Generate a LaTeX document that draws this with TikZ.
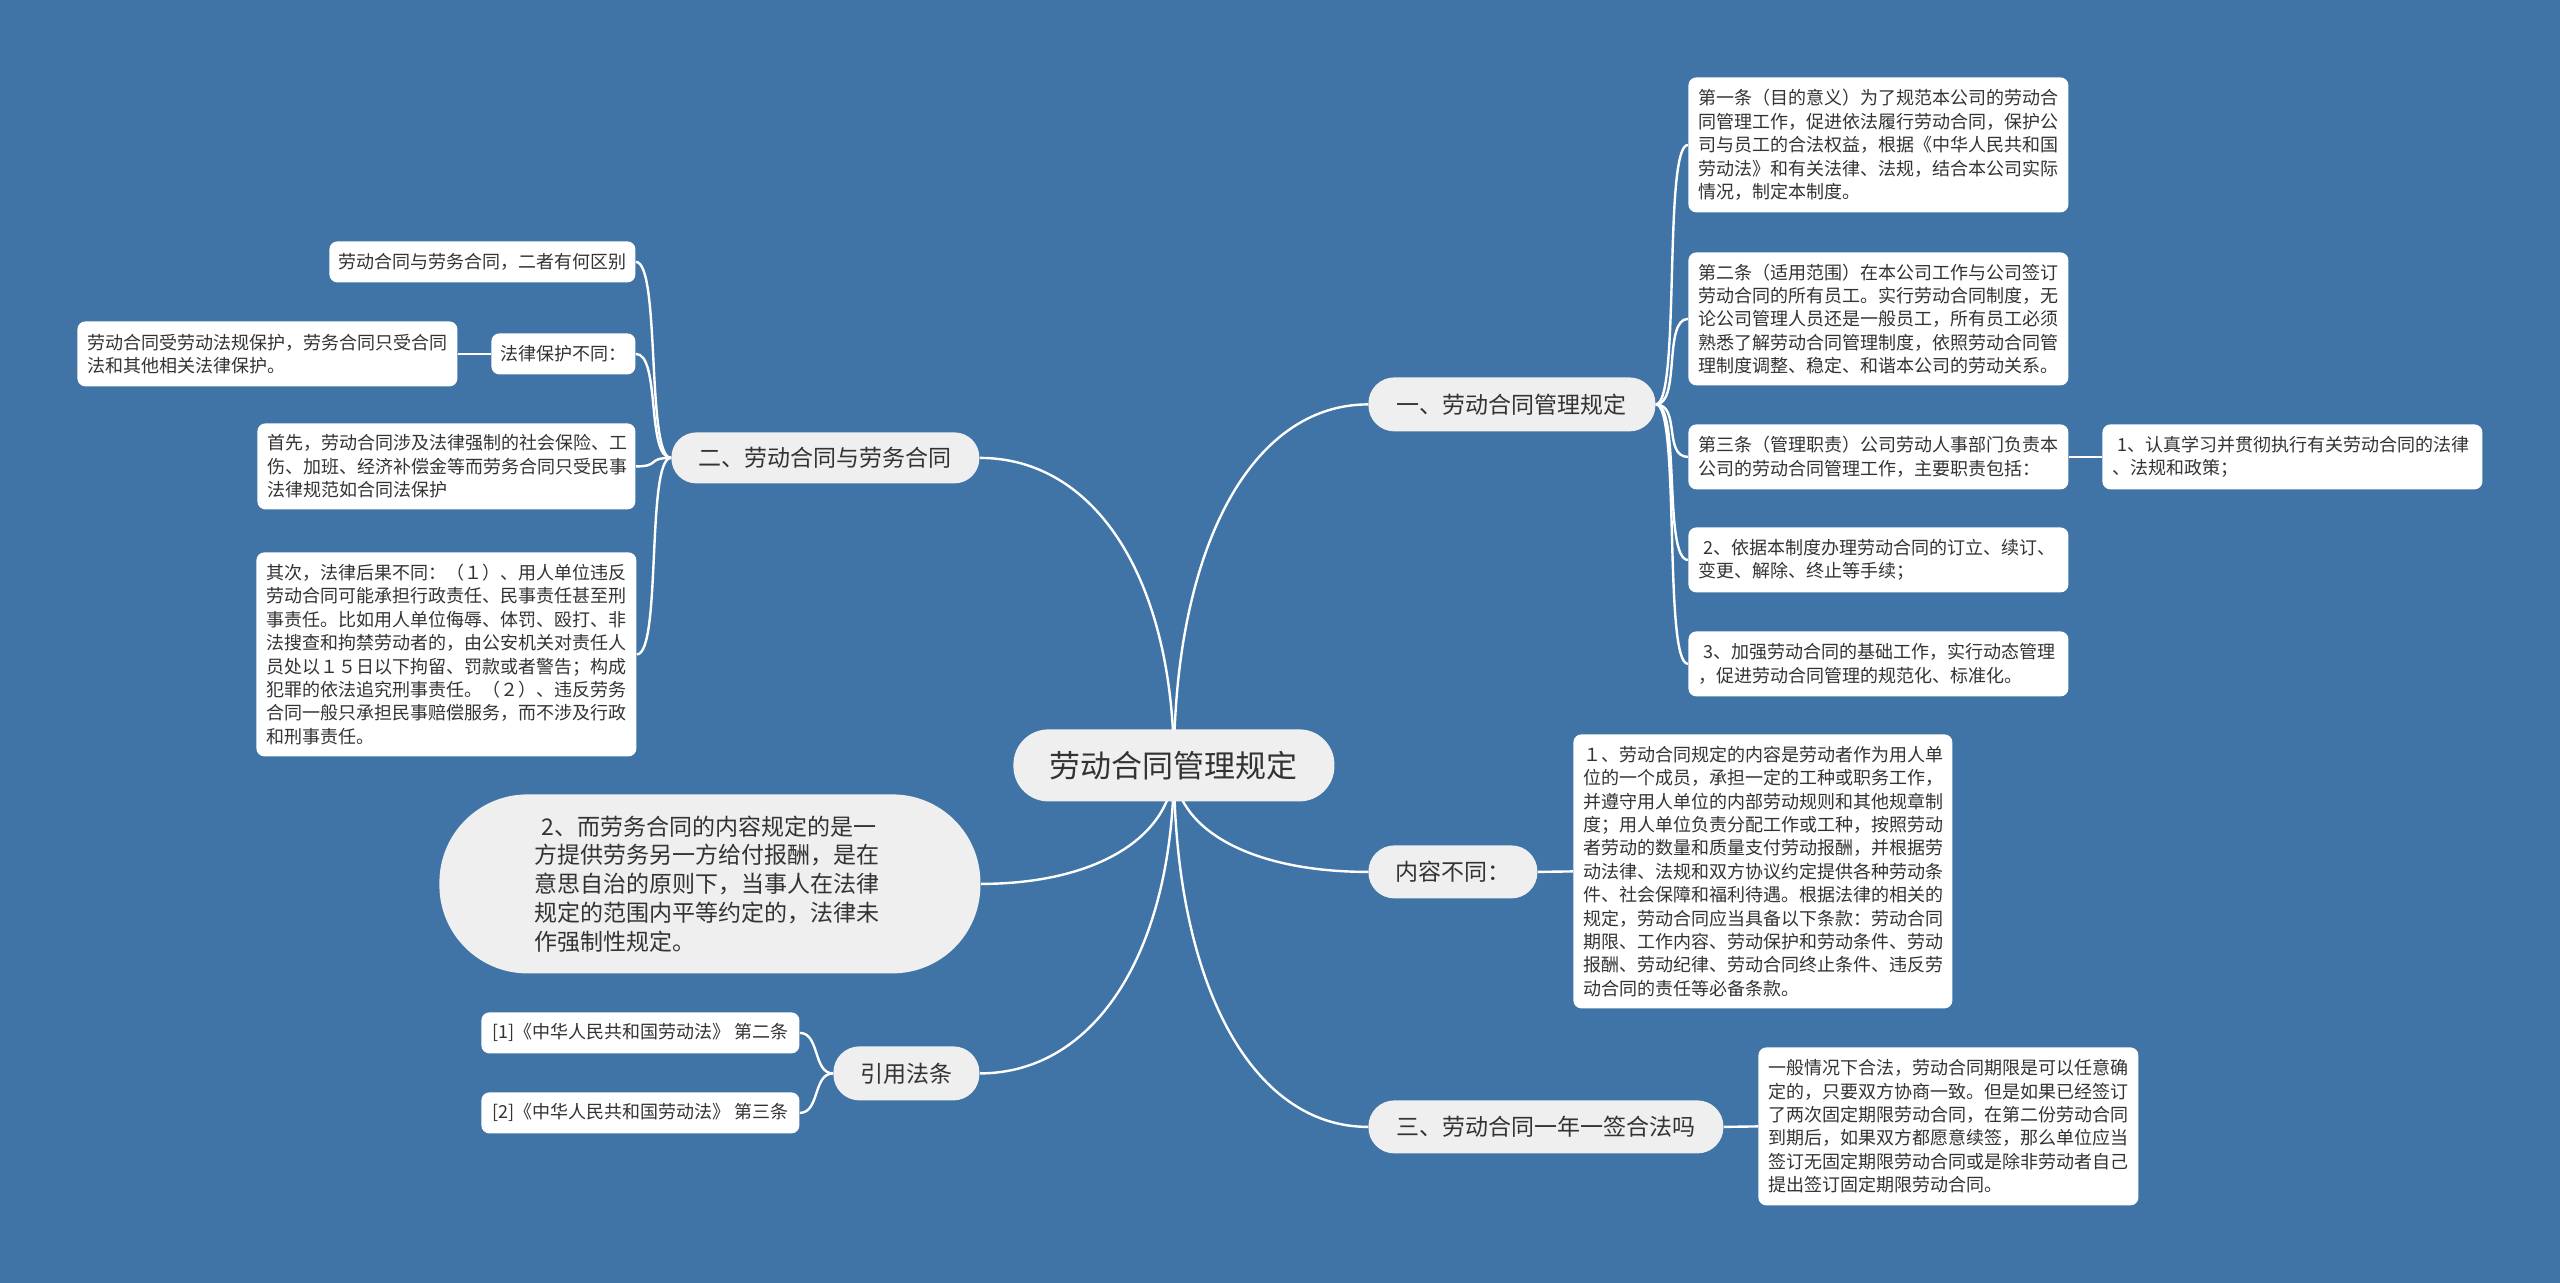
\documentclass[tikz,border=0pt]{standalone}
\usepackage{fontspec}
\newfontfamily\cjk{Noto Sans CJK SC}
\definecolor{bgblue}{HTML}{4074A6}
\definecolor{pillc}{HTML}{EFEFEF}
\definecolor{txt}{HTML}{333333}
\pgfdeclarelayer{bg}
\pgfdeclarelayer{edges}
\pgfsetlayers{bg,edges,main}
\begin{document}
\begin{tikzpicture}[x=0.5pt,y=-0.5pt,
  leaf/.style={fill=white, rounded corners=4pt, align=left, anchor=north west,
    inner xsep=5pt, inner ysep=0pt, text=txt, font=\cjk\fontsize{9}{11.7}\selectfont},
  leafone/.style={fill=white, rounded corners=4pt, align=center, anchor=north west,
    inner sep=0pt, text=txt, font=\cjk\fontsize{9}{11.7}\selectfont},
  pillnode/.style={fill=pillc, anchor=north west, inner sep=0pt, text=txt, align=center,
    font=\cjk\fontsize{11.5}{14}\selectfont},
  link/.style={draw=white, line width=1.2pt}]
\useasboundingbox (0,0) rectangle (2560,1283);
\begin{pgfonlayer}{bg}
\fill[bgblue] (0,0) rectangle (2560,1283);
\end{pgfonlayer}

% centre
\node[pillnode, minimum width=160.5pt, minimum height=36pt, rounded corners=17.5pt,
  font=\cjk\fontsize{15.5}{18}\selectfont] (ctr) at (1013,729) {劳动合同管理规定};

% branch nodes
\node[pillnode, minimum width=143.5pt, minimum height=27pt, rounded corners=13pt] (n1) at (1368,377) {一、劳动合同管理规定};
\node[pillnode, minimum width=154pt, minimum height=25.5pt, rounded corners=12.5pt] (n2) at (671,432) {二、劳动合同与劳务合同};
\node[pillnode, minimum width=84.5pt, minimum height=26.5pt, rounded corners=13pt] (n3) at (1368,845) {内容不同：};
\node[pillnode, minimum width=177.5pt, minimum height=26.5pt, rounded corners=13pt] (n4) at (1368,1100) {三、劳动合同一年一签合法吗};
\node[pillnode, minimum width=73pt, minimum height=27pt, rounded corners=13pt] (n5) at (833,1046) {引用法条};
\node[pillnode, minimum width=270.5pt, minimum height=89.5pt, rounded corners=44pt,
  align=left, text width=175pt, font=\cjk\fontsize{11.5}{14.4}\selectfont] (ell) at (439,794)
  {\hspace{0.3em}2、而劳务合同的内容规定的是一\\方提供劳务另一方给付报酬，是在\\意思自治的原则下，当事人在法律\\规定的范围内平等约定的，法律未\\作强制性规定。};

% right leaves of branch 1
\node[leaf, text width=180pt, minimum height=67.5pt] (b1) at (1688,77)
  {第一条（目的意义）为了规范本公司的劳动合\\同管理工作，促进依法履行劳动合同，保护公\\司与员工的合法权益，根据《中华人民共和国\\劳动法》和有关法律、法规，结合本公司实际\\情况，制定本制度。};
\node[leaf, text width=180pt, minimum height=66.5pt] (b2) at (1688,252)
  {第二条（适用范围）在本公司工作与公司签订\\劳动合同的所有员工。实行劳动合同制度，无\\论公司管理人员还是一般员工，所有员工必须\\熟悉了解劳动合同管理制度，依照劳动合同管\\理制度调整、稳定、和谐本公司的劳动关系。};
\node[leaf, text width=180pt, minimum height=32.5pt] (b3) at (1688,424)
  {第三条（管理职责）公司劳动人事部门负责本\\公司的劳动合同管理工作，主要职责包括：};
\node[leaf, text width=180pt, minimum height=32.5pt] (b31) at (2102,424)
  {\hspace{0.3em}1、认真学习并贯彻执行有关劳动合同的法律\\、法规和政策；};
\node[leaf, text width=180pt, minimum height=32.5pt] (b4) at (1688,527)
  {\hspace{0.3em}2、依据本制度办理劳动合同的订立、续订、\\变更、解除、终止等手续；};
\node[leaf, text width=180pt, minimum height=32.5pt] (b5) at (1688,631)
  {\hspace{0.3em}3、加强劳动合同的基础工作，实行动态管理\\，促进劳动合同管理的规范化、标准化。};

% content leaf
\node[leaf, text width=179.5pt, minimum height=137pt] (c1) at (1573,734)
  {１、劳动合同规定的内容是劳动者作为用人单\\位的一个成员，承担一定的工种或职务工作，\\并遵守用人单位的内部劳动规则和其他规章制\\度；用人单位负责分配工作或工种，按照劳动\\者劳动的数量和质量支付劳动报酬，并根据劳\\动法律、法规和双方协议约定提供各种劳动条\\件、社会保障和福利待遇。根据法律的相关的\\规定，劳动合同应当具备以下条款：劳动合同\\期限、工作内容、劳动保护和劳动条件、劳动\\报酬、劳动纪律、劳动合同终止条件、违反劳\\动合同的责任等必备条款。};

% branch 3 leaf
\node[leaf, text width=180pt, minimum height=79pt] (d1) at (1758,1047)
  {一般情况下合法，劳动合同期限是可以任意确\\定的，只要双方协商一致。但是如果已经签订\\了两次固定期限劳动合同，在第二份劳动合同\\到期后，如果双方都愿意续签，那么单位应当\\签订无固定期限劳动合同或是除非劳动者自己\\提出签订固定期限劳动合同。};

% left leaves
\node[leafone, minimum width=153pt, minimum height=20.5pt] (l1) at (329,241) {劳动合同与劳务合同，二者有何区别};
\node[leafone, minimum width=72pt, minimum height=20.5pt] (l2) at (491,333) {法律保护不同：};
\node[leaf, text width=180pt, minimum height=32.5pt] (l21) at (77,321)
  {劳动合同受劳动法规保护，劳务合同只受合同\\法和其他相关法律保护。};
\node[leaf, text width=179pt, minimum height=43pt] (l3) at (257,423)
  {首先，劳动合同涉及法律强制的社会保险、工\\伤、加班、经济补偿金等而劳务合同只受民事\\法律规范如合同法保护};
\node[leaf, text width=180pt, minimum height=102pt] (l4) at (256,552)
  {其次，法律后果不同：（１）、用人单位违反\\劳动合同可能承担行政责任、民事责任甚至刑\\事责任。比如用人单位侮辱、体罚、殴打、非\\法搜查和拘禁劳动者的，由公安机关对责任人\\员处以１５日以下拘留、罚款或者警告；构成\\犯罪的依法追究刑事责任。（２）、违反劳务\\合同一般只承担民事赔偿服务，而不涉及行政\\和刑事责任。};

% references
\node[leafone, minimum width=159pt, minimum height=20.5pt] (r1) at (481,1012) {[1]《中华人民共和国劳动法》 第二条};
\node[leafone, minimum width=159pt, minimum height=20.5pt] (r2) at (481,1092) {[2]《中华人民共和国劳动法》 第三条};

\begin{pgfonlayer}{edges}
% from centre
\draw[link] (ctr.center) .. controls +(0,-217) and +(-117,0) .. (n1.west);
\draw[link] (ctr.center) .. controls +(0,-184) and +(117,0) .. (n2.east);
\draw[link] (ctr.center) .. controls +(0,71) and +(116,0) .. (ell.east);
\draw[link] (ctr.center) .. controls +(0,185) and +(116,0) .. (n5.east);
\draw[link] (ctr.center) .. controls +(0,64) and +(-117,0) .. (n3.west);
\draw[link] (ctr.center) .. controls +(0,217) and +(-117,0) .. (n4.west);
% branch 1
\foreach \t in {b1,b2,b3,b4,b5}
  \draw[link] (n1.east) .. controls +(25,0) and +(-25,0) .. (\t.west);
\draw[link] (b3.east) -- (b31.west);
% branch 2
\foreach \t in {l1,l2,l3,l4}
  \draw[link] (n2.west) .. controls +(-25,0) and +(25,0) .. (\t.east);
\draw[link] (l2.west) -- (l21.east);
% others
\draw[link] (n3.east) -- (c1.west);
\draw[link] (n4.east) -- (d1.west);
\draw[link] (n5.west) .. controls +(-20,0) and +(20,0) .. (r1.east);
\draw[link] (n5.west) .. controls +(-20,0) and +(20,0) .. (r2.east);
\end{pgfonlayer}
\end{tikzpicture}
\end{document}
